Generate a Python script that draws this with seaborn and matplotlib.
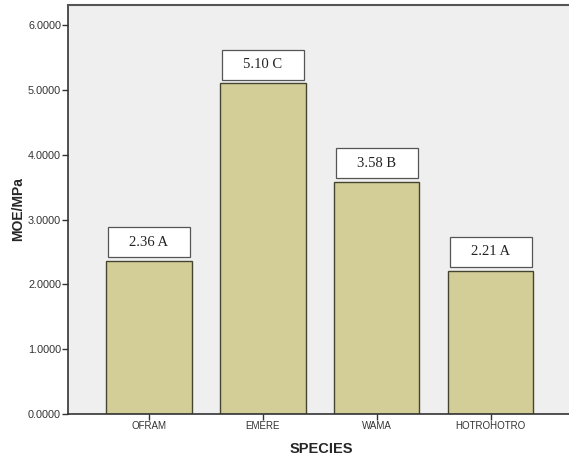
import matplotlib
matplotlib.use("Agg")
import matplotlib.pyplot as plt
import seaborn as sns
import pandas as pd
from matplotlib.patches import Rectangle

species = ["OFRAM", "EMERE", "WAMA", "HOTROHOTRO"]
moe = [2.36, 5.10, 3.58, 2.21]
groups = ["A", "C", "B", "A"]
yticks = [0, 1, 2, 3, 4, 5, 6]

df = pd.DataFrame({"SPECIES": species, "MOE": moe})

sns.set_theme(style="ticks")
plt.rcParams["font.family"] = ["Liberation Sans", "DejaVu Sans"]

fig = plt.figure(figsize=(5.69, 4.61), dpi=100)
ax = fig.add_axes([68 / 569, 1 - 414 / 461, (575 - 68) / 569, (414 - 5) / 461])
ax.set_facecolor("#efefef")

sns.barplot(data=df, x="SPECIES", y="MOE", ax=ax, color="#d3ce98",
            saturation=1, width=0.75, edgecolor="#45452f", linewidth=1.0)

for i, (v, g) in enumerate(zip(moe, groups)):
    ax.add_patch(Rectangle((i - 0.36, v + 0.06), 0.72, 0.46, facecolor="white",
                           edgecolor="#555555", linewidth=0.9, zorder=3))
    ax.text(i, v + 0.29, f"{v:.2f} {g}", ha="center", va="center",
            fontsize=10.5, family=["Liberation Serif"], color="#222222", zorder=4)

ax.set_xlim(-0.71, 3.74)
ax.set_ylim(0, 6.31)
ax.set_yticks(yticks)
ax.set_yticklabels([f"{t:.4f}" for t in yticks], fontsize=7.8, color="#333333")
ax.set_xticks(range(len(species)))
ax.set_xticklabels(species, fontsize=7, color="#333333")
ax.tick_params(axis="both", length=4, width=1, color="#333333", pad=1)

ax.set_ylabel("MOE/MPa", fontsize=10, fontweight="bold", labelpad=2)
ax.set_xlabel("SPECIES", fontsize=10.5, fontweight="bold", labelpad=8)

for s in ["left", "bottom"]:
    ax.spines[s].set_color("#333333")
    ax.spines[s].set_linewidth(1.2)
ax.spines["top"].set_visible(True)
ax.spines["top"].set_color("#555555")
ax.spines["top"].set_linewidth(1.5)
ax.spines["right"].set_visible(False)

fig.savefig("out.png", dpi=100, facecolor="white")
